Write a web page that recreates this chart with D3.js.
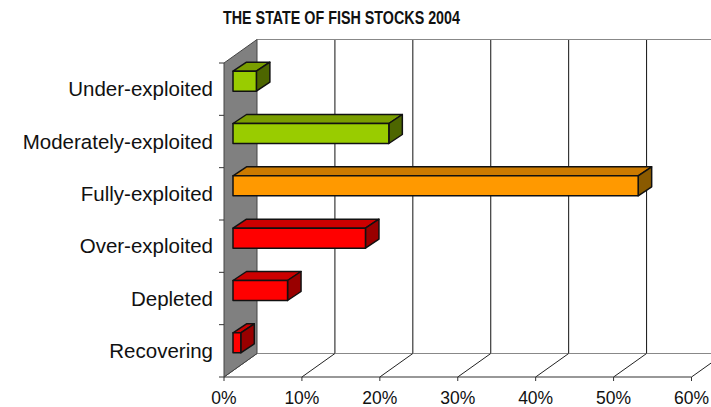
<!DOCTYPE html>
<html>
<head>
<meta charset="utf-8">
<script src="https://cdn.jsdelivr.net/npm/d3@7"></script>
<style>
  html, body { margin: 0; padding: 0; background: #fff; }
  svg { display: block; font-family: "Liberation Sans", Arial, sans-serif; }
</style>
</head>
<body>
<svg id="chart" width="711" height="407"></svg>
<script>
// Share of world fish stocks by exploitation status, 2004 (%)
const categories = ["Under-exploited", "Moderately-exploited", "Fully-exploited",
                    "Over-exploited", "Depleted", "Recovering"];
const values = [3, 20, 52, 17, 7, 1];
const statusGroup = ["green", "green", "orange", "red", "red", "red"];
const tickValues = [0, 10, 20, 30, 40, 50, 60];
const title = "THE STATE OF FISH STOCKS 2004";

// Face shades for each colour group: front, top, side
const palette = {
  green:  { front: "#99cc00", top: "#7a9e00", side: "#4d6600" },
  orange: { front: "#ff9900", top: "#cc7a00", side: "#8a5a00" },
  red:    { front: "#ff0000", top: "#cc0000", side: "#990000" }
};

const svg = d3.select("#chart");

// Front plane of the plot
const x = d3.scaleLinear().domain([0, 60]).range([224, 691.5]);
const y = d3.scaleBand().domain(categories).range([63, 377]);

// Oblique depth of the box and of the bars
const DX = 33, DY = -23.5;          // full depth of the floor / side wall
const BZX = 9, BZY = -8;            // bar front face offset into the box
const BDX = 13.5, BDY = -9;         // bar depth
const barH = 20;

const top0 = y.range()[0], bot0 = y.range()[1];
const xMin = x(0), xMax = x(60);

const g = svg.append("g");

// Back wall gridlines
g.selectAll("line.grid").data(tickValues.slice(1)).join("line")
  .attr("class", "grid")
  .attr("x1", d => x(d) + DX).attr("x2", d => x(d) + DX)
  .attr("y1", top0 + DY).attr("y2", bot0 + DY)
  .attr("stroke", "#111").attr("stroke-width", 1);

// Top edge of back wall
g.append("line")
  .attr("x1", xMin + DX).attr("x2", xMax + DX)
  .attr("y1", top0 + DY).attr("y2", top0 + DY)
  .attr("stroke", "#888").attr("stroke-width", 1.2);

// Floor: back edge, depth lines, front edge
g.append("line")
  .attr("x1", xMin + DX).attr("x2", xMax + DX)
  .attr("y1", bot0 + DY).attr("y2", bot0 + DY)
  .attr("stroke", "#888").attr("stroke-width", 1.2);

g.selectAll("line.depth").data(tickValues).join("line")
  .attr("class", "depth")
  .attr("x1", d => x(d)).attr("y1", bot0)
  .attr("x2", d => x(d) + DX).attr("y2", bot0 + DY)
  .attr("stroke", "#222").attr("stroke-width", 1);

g.append("line")
  .attr("x1", xMin).attr("x2", xMax)
  .attr("y1", bot0).attr("y2", bot0)
  .attr("stroke", "#333").attr("stroke-width", 1.2);

// Side wall (grey)
g.append("path")
  .attr("d", `M${xMin},${top0} L${xMin + DX},${top0 + DY} L${xMin + DX},${bot0 + DY} L${xMin},${bot0} Z`)
  .attr("fill", "#808080").attr("stroke", "#444").attr("stroke-width", 1);

// Tick marks below the value axis
g.selectAll("line.xtick").data(tickValues).join("line")
  .attr("class", "xtick")
  .attr("x1", d => x(d)).attr("x2", d => x(d))
  .attr("y1", bot0).attr("y2", bot0 + 4)
  .attr("stroke", "#333").attr("stroke-width", 1);

// Value axis labels
g.selectAll("text.xlab").data(tickValues).join("text")
  .attr("class", "xlab")
  .attr("x", d => x(d)).attr("y", 404)
  .attr("text-anchor", "middle")
  .attr("font-size", 17.5).attr("fill", "#111")
  .text(d => d + "%");

// Category ticks on the wall's front edge
const bounds = categories.map(c => y(c)).concat([bot0]);
g.selectAll("line.ytick").data(bounds).join("line")
  .attr("class", "ytick")
  .attr("x1", xMin - 5).attr("x2", xMin)
  .attr("y1", d => d).attr("y2", d => d)
  .attr("stroke", "#333").attr("stroke-width", 1);

// Category labels
g.selectAll("text.ylab").data(categories).join("text")
  .attr("class", "ylab")
  .attr("x", 213)
  .attr("y", d => y(d) + y.bandwidth() / 2 + 7)
  .attr("text-anchor", "end")
  .attr("font-size", 20.5).attr("fill", "#111")
  .text(d => d);

// 3D bars
const bars = categories.map((c, i) => ({ cat: c, value: values[i], col: palette[statusGroup[i]] }));
const barG = g.selectAll("g.bar").data(bars).join("g").attr("class", "bar");

function face(d) {
  const x0 = x(0) + BZX, x1 = x(d.value) + BZX;
  const yc = y(d.cat) + y.bandwidth() / 2 + BZY;
  const y0 = yc - barH / 2, y1 = yc + barH / 2;
  return { x0, x1, y0, y1 };
}

barG.append("path") // top
  .attr("d", d => { const f = face(d);
    return `M${f.x0},${f.y0} L${f.x0 + BDX},${f.y0 + BDY} L${f.x1 + BDX},${f.y0 + BDY} L${f.x1},${f.y0} Z`; })
  .attr("fill", d => d.col.top);

barG.append("path") // side
  .attr("d", d => { const f = face(d);
    return `M${f.x1},${f.y0} L${f.x1 + BDX},${f.y0 + BDY} L${f.x1 + BDX},${f.y1 + BDY} L${f.x1},${f.y1} Z`; })
  .attr("fill", d => d.col.side);

barG.append("rect") // front
  .attr("x", d => face(d).x0).attr("y", d => face(d).y0)
  .attr("width", d => face(d).x1 - face(d).x0).attr("height", barH)
  .attr("fill", d => d.col.front);

barG.selectAll("path, rect")
  .attr("stroke", "#111").attr("stroke-width", 1.5).attr("stroke-linejoin", "round");

// Title
svg.append("text")
  .attr("x", 341.5).attr("y", 23.5)
  .attr("text-anchor", "middle")
  .attr("font-size", 19).attr("font-weight", "bold").attr("fill", "#111")
  .attr("textLength", 237).attr("lengthAdjust", "spacingAndGlyphs")
  .text(title);
</script>
</body>
</html>
